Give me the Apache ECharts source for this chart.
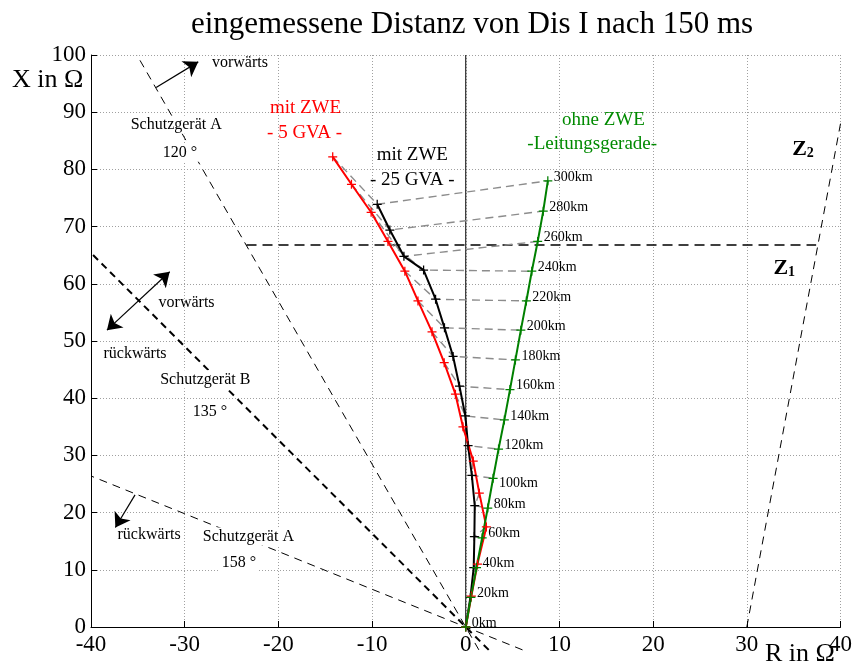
<!DOCTYPE html>
<html>
<head>
<meta charset="utf-8">
<script src="https://cdn.jsdelivr.net/npm/echarts@6/dist/echarts.min.js"></script>
<style>
  html, body { margin: 0; padding: 0; background: #fff; }
  #chart { width: 855px; height: 669px; }
</style>
</head>
<body>
<div id="chart"></div>
<script>
// Fault distances along the line (20 km steps)
const distances = ['0km', '20km', '40km', '60km', '80km', '100km', '120km', '140km',
  '160km', '180km', '200km', '220km', '240km', '260km', '280km', '300km'];

// Line impedance without series compensation (R, X in Ohm)
const ohneZWE = [[0, 0], [0.55, 5.2], [1.15, 10.4], [1.75, 15.6], [2.35, 20.8], [2.92, 26.0],
  [3.5, 31.1], [4.12, 36.2], [4.72, 41.5], [5.3, 46.7], [5.88, 51.9], [6.47, 57.0],
  [7.05, 62.2], [7.68, 67.4], [8.27, 72.7], [8.76, 78.0]];

// Measured impedance with series compensation, 5 GVA source
const mitZWE5 = [[0, 0], [0.6, 5.4], [1.25, 11.0], [2.2, 17.5], [1.45, 23.4], [0.8, 29.0],
  [-0.3, 35.0], [-1.1, 40.7], [-2.3, 46.2], [-3.6, 51.6], [-5.1, 57.0], [-6.5, 62.2],
  [-8.3, 67.4], [-10.1, 72.5], [-12.2, 77.4], [-14.2, 82.2]];

// Measured impedance with series compensation, 25 GVA source
const mitZWE25 = [[0, 0], [0.5, 5.2], [0.85, 10.4], [0.92, 15.8], [0.96, 21.2], [0.65, 26.5],
  [0.25, 31.7], [-0.04, 36.9], [-0.67, 42.1], [-1.35, 47.3], [-2.27, 52.3], [-3.22, 57.3],
  [-4.5, 62.4], [-6.6, 64.8], [-8.1, 69.4], [-9.45, 73.9]];

// Directional boundaries of the relays and the zone limits
const richtungA120 = [[1.4, -4], [-35.1, 100]];
const richtungB135 = [[2.45, -4], [-40, 65.4]];
const richtungA158 = [[6.06, -4], [-40, 26.4]];
const zoneZ2 = [[30, 0], [40, 88]];
const zoneZ1 = [[-23.4, 66.8], [37.4, 66.8]];
const xAchse = [[0, 0], [0, 100]];

// Direction arrows
const pfeilA120 = [[-33.05, 94.3], [-28.55, 98.8]];
const pfeilB = [[-38.3, 51.9], [-31.6, 62.1]];
const pfeilA158 = [[-35.3, 23.1], [-37.4, 17.4]];

const serif = '"Liberation Serif", "Times New Roman", serif';

const plus = 'path://M-0.14,-1L0.14,-1L0.14,-0.14L1,-0.14L1,0.14L0.14,0.14L0.14,1L-0.14,1L-0.14,0.14L-1,0.14L-1,-0.14L-0.14,-0.14Z';

function curve(name, data, color) {
  return {
    name: name, type: 'line', data: data, z: 4,
    symbol: plus, symbolSize: 9, showSymbol: true,
    lineStyle: { color: color, width: 2 },
    itemStyle: { color: color },
    emphasis: { disabled: true }
  };
}

function straight(data, width, dash, clip) {
  return {
    type: 'line', data: data, z: 2, symbol: 'none', clip: clip,
    lineStyle: { color: '#000', width: width, type: dash },
    emphasis: { disabled: true }
  };
}

// Grey dashed connectors between points of equal fault distance
const verbinder = [];
for (let k = 1; k < distances.length; k++) {
  verbinder.push({ coords: [mitZWE5[k], mitZWE25[k], ohneZWE[k]] });
}

const boxed = { backgroundColor: '#fff', padding: [1, 2] };
const notes = [
  { t: 'vorwärts', p: [-24.1, 98.6], s: 16 },
  { t: 'Schutzgerät A', p: [-30.9, 87.8], s: 16, box: true },
  { t: '120 °', p: [-30.5, 82.9], s: 16, box: true },
  { t: 'vorwärts', p: [-29.8, 56.7], s: 16 },
  { t: 'rückwärts', p: [-35.3, 47.8], s: 16 },
  { t: 'Schutzgerät B', p: [-27.8, 43.3], s: 16, box: true },
  { t: '135 °', p: [-27.3, 37.6], s: 16, box: true },
  { t: 'rückwärts', p: [-33.8, 16.1], s: 16 },
  { t: 'Schutzgerät A', p: [-23.2, 15.8], s: 16, box: true },
  { t: '158 °', p: [-24.2, 11.2], s: 16, box: true },
  { t: 'mit ZWE', p: [-17.1, 90.7], s: 19, c: '#ff0000' },
  { t: '- 5 GVA -', p: [-17.2, 86.4], s: 19, c: '#ff0000' },
  { t: 'mit ZWE', p: [-5.7, 82.5], s: 19 },
  { t: '- 25 GVA -', p: [-5.7, 78.1], s: 19 },
  { t: 'ohne ZWE', p: [14.7, 88.6], s: 19, c: '#008a00' },
  { t: '-Leitungsgerade-', p: [13.5, 84.4], s: 19, c: '#008a00' },
  { t: '{z|Z}{s|2}', p: [36.0, 83.7], s: 22 },
  { t: '{z|Z}{s|1}', p: [34.0, 62.8], s: 22 }
];

const noteData = notes.map(n => {
  const label = {
    show: true, position: 'inside', formatter: n.t,
    color: n.c || '#000', fontFamily: serif, fontSize: n.s,
    textBorderWidth: 0, textShadowBlur: 0, opacity: 1,
    rich: {
      z: { fontFamily: serif, fontSize: 22, fontWeight: 'bold', color: '#000', verticalAlign: 'bottom', lineHeight: 24, textBorderWidth: 0 },
      s: { fontFamily: serif, fontSize: 14, fontWeight: 'bold', color: '#000', verticalAlign: 'bottom', lineHeight: 18, textBorderWidth: 0 }
    }
  };
  if (n.box) Object.assign(label, boxed);
  return { value: n.p, label: label };
});

const kmLabelData = ohneZWE.map((p, i) => ({
  value: p,
  label: { offset: i === 5 ? [0, 5] : [0, -4] }
}));

const chart = echarts.init(document.getElementById('chart'), null, { renderer: 'canvas' });

chart.setOption({
  animation: false,
  backgroundColor: '#fff',
  textStyle: { fontFamily: serif },
  title: {
    text: 'eingemessene Distanz von Dis I nach 150 ms',
    left: 467, top: 4, textAlign: 'center',
    textStyle: { fontFamily: serif, fontSize: 31, fontWeight: 'normal', color: '#000' }
  },
  grid: { left: 91, right: 12, top: 55, bottom: 42, containLabel: false },
  xAxis: {
    type: 'value', min: -40, max: 40, interval: 10,
    axisLine: { show: true, onZero: false, lineStyle: { color: '#000', width: 1 } },
    axisTick: { show: true, inside: true, length: 6, lineStyle: { color: '#000' } },
    axisLabel: { color: '#000', fontFamily: serif, fontSize: 23, margin: 6 },
    splitLine: { show: true, lineStyle: { color: '#a0a0a0', width: 1, type: [1, 2] } }
  },
  yAxis: {
    type: 'value', min: 0, max: 100, interval: 10,
    axisLine: { show: true, onZero: false, lineStyle: { color: '#000', width: 1 } },
    axisTick: { show: true, inside: true, length: 6, lineStyle: { color: '#000' } },
    axisLabel: { color: '#000', fontFamily: serif, fontSize: 23, margin: 5 },
    splitLine: { show: true, lineStyle: { color: '#a0a0a0', width: 1, type: [1, 2] } }
  },
  graphic: [
    { type: 'text', left: 12, top: 67, style: { text: 'X in Ω', fontFamily: serif, fontSize: 26, fill: '#000' } },
    { type: 'text', left: 765, top: 641, style: { text: 'R in Ω', fontFamily: serif, fontSize: 26, fill: '#000' } }
  ],
  series: [
    straight(xAchse, 1, 'solid', true),
    straight(richtungA120, 1, [8, 6], false),
    straight(richtungB135, 2, [7, 5], false),
    straight(richtungA158, 1, [8, 6], false),
    straight(zoneZ2, 1, [8, 6], true),
    straight(zoneZ1, 1.5, [10, 6], true),
    {
      type: 'lines', coordinateSystem: 'cartesian2d', polyline: true, z: 3,
      data: verbinder,
      lineStyle: { color: '#8c8c8c', width: 1.4, type: [8, 5], opacity: 1 },
      silent: true
    },
    {
      type: 'lines', coordinateSystem: 'cartesian2d', z: 3,
      symbol: ['none', 'arrow'], symbolSize: 14,
      data: [{ coords: pfeilA120 }, { coords: pfeilA158 }],
      lineStyle: { color: '#000', width: 1.2, opacity: 1 },
      silent: true
    },
    {
      type: 'lines', coordinateSystem: 'cartesian2d', z: 3,
      symbol: ['arrow', 'arrow'], symbolSize: 14,
      data: [{ coords: pfeilB }],
      lineStyle: { color: '#000', width: 1.2, opacity: 1 },
      silent: true
    },
    curve('mit ZWE - 25 GVA -', mitZWE25, '#000000'),
    curve('mit ZWE - 5 GVA -', mitZWE5, '#ff0000'),
    curve('ohne ZWE', ohneZWE, '#008000'),
    {
      type: 'scatter', data: kmLabelData, z: 6, symbolSize: 0, silent: true,
      itemStyle: { opacity: 1 },
      label: {
        show: true, position: 'right', distance: 6, color: '#000', opacity: 1,
        fontFamily: serif, fontSize: 14, textBorderWidth: 0,
        formatter: p => distances[p.dataIndex]
      }
    },
    {
      type: 'scatter', data: noteData, z: 8, symbolSize: 0, silent: true,
      itemStyle: { opacity: 1 }
    }
  ]
});
</script>
</body>
</html>
